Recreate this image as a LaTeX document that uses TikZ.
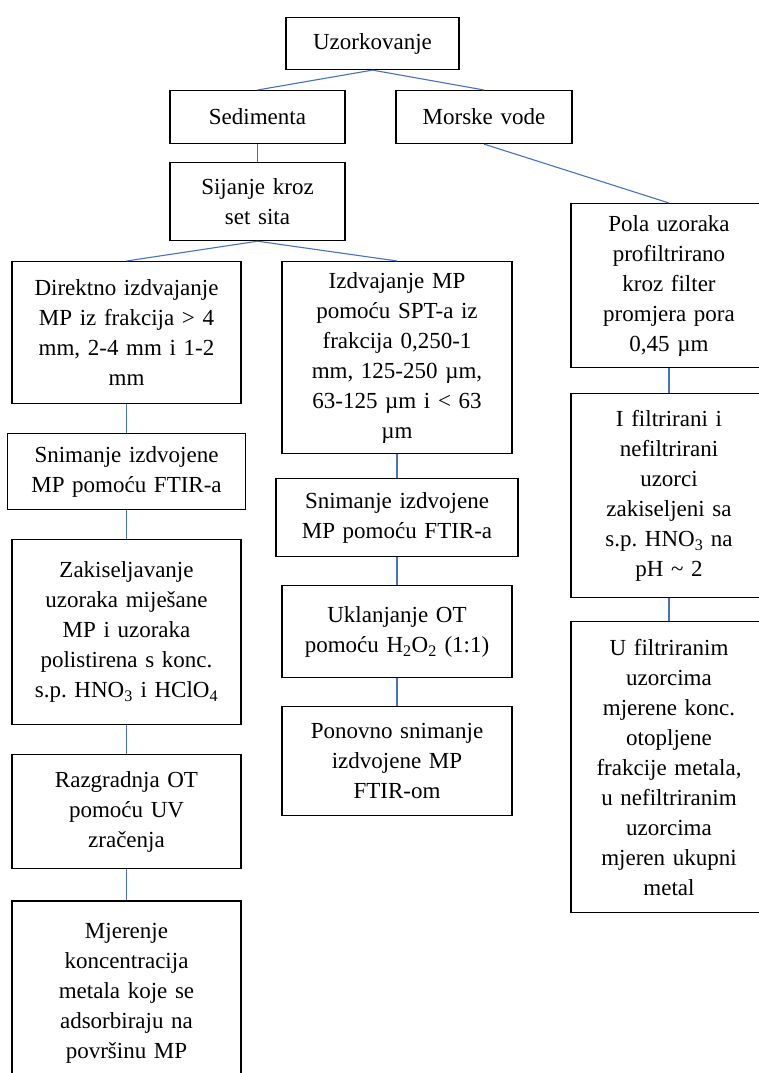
\documentclass[tikz,border=0pt]{standalone}
\usepackage{fontspec}
\setmainfont{Liberation Serif}
\usepackage{xcolor}
\usepackage{tikz}
\usetikzlibrary{positioning}

\definecolor{linkblue}{HTML}{4472C4}
\frenchspacing

\begin{document}
\begin{tikzpicture}[
        x=1pt, y=-1pt,
        stepbox/.style 2 args={rectangle, draw=black, line width=1.1pt, inner xsep=0pt, inner ysep=0pt,
            text width=#1, minimum height=#2, align=center,
            font=\fontsize{23}{30}\selectfont},
        link/.style={draw=linkblue, line width=1.1pt}
    ]
    \useasboundingbox (0,0) rectangle (758,1073);

    % --- Nodes (top levels) ---
    \node[stepbox={173pt}{52pt}, anchor=north] (uzork) at (372.5,17) {Uzorkovanje};
    \node[stepbox={175pt}{53pt}, anchor=north] (sediment) at (257.5,90) {Sedimenta};
    \node[stepbox={176pt}{53pt}, anchor=north] (morske) at (484,90) {Morske vode};
    \node[stepbox={175pt}{78pt}, below=18pt of sediment] (sijanje) {Sijanje kroz\\set sita};

    % --- Left column (sediment, > 1 mm) ---
    \node[stepbox={229pt}{142pt}, anchor=north] (direkt) at (126.5,261) {Direktno izdvajanje\\MP iz frakcija > 4\\mm, 2-4 mm i 1-2\\mm};
    \node[stepbox={238pt}{76pt}, below=29pt of direkt] (snimL) {Snimanje izdvojene\\MP pomoću FTIR-a};
    \node[stepbox={229pt}{185pt}, below=29pt of snimL] (zakis) {Zakiseljavanje\\uzoraka miješane\\MP i uzoraka\\polistirena s konc.\\s.p. HNO\textsubscript{3} i HClO\textsubscript{4}};
    \node[stepbox={229pt}{114pt}, below=29pt of zakis] (razgr) {Razgradnja OT\\pomoću UV\\zračenja};
    \node[stepbox={229pt}{184pt}, below=31pt of razgr] (mjeren) {Mjerenje\\koncentracija\\metala koje se\\adsorbiraju na\\površinu MP};

    % --- Middle column (sediment, < 1 mm) ---
    \node[stepbox={230pt}{192pt}, anchor=north] (izdv) at (397,261) {Izdvajanje MP\\pomoću SPT-a iz\\frakcija 0,250-1\\mm, 125-250 µm,\\63-125 µm i < 63\\µm};
    \node[stepbox={242pt}{78pt}, below=24pt of izdv] (snimM) {Snimanje izdvojene\\MP pomoću FTIR-a};
    \node[stepbox={230pt}{92pt}, below=28pt of snimM] (uklanj) {Uklanjanje OT\\pomoću H\textsubscript{2}O\textsubscript{2} (1:1)};
    \node[stepbox={230pt}{109pt}, below=28pt of uklanj] (ponov) {Ponovno snimanje\\izdvojene MP\\FTIR-om};

    % --- Right column (sea water) ---
    \node[stepbox={196pt}{164pt}, anchor=north] (pola) at (669,203) {Pola uzoraka\\profiltrirano\\kroz filter\\promjera pora\\0,45 µm};
    \node[stepbox={196pt}{204pt}, below=25pt of pola] (ifiltr) {I filtrirani i\\nefiltrirani\\uzorci\\zakiseljeni sa\\s.p. HNO\textsubscript{3} na\\pH \textasciitilde{} 2};
    \node[stepbox={196pt}{291pt}, below=23pt of ifiltr] (ufiltr) {U filtriranim\\uzorcima\\mjerene konc.\\otopljene\\frakcije metala,\\u nefiltriranim\\uzorcima\\mjeren ukupni\\metal};

    % --- Connectors ---
    \draw[link] (uzork.south) -- (sediment.north);
    \draw[link] (uzork.south) -- (morske.north);
    \draw[link] (sediment.south) -- (sijanje.north);
    \draw[link] (morske.south) -- (pola.north);
    \draw[link] (sijanje.south) -- (direkt.north);
    \draw[link] (sijanje.south) -- (izdv.north);

    % left
    \draw[link] (direkt) -- (snimL);
    \draw[link] (snimL) -- (zakis);
    \draw[link] (zakis) -- (razgr);
    \draw[link] (razgr) -- (mjeren);

    % middle
    \draw[link] (izdv) -- (snimM);
    \draw[link] (snimM) -- (uklanj);
    \draw[link] (uklanj) -- (ponov);

    % right
    \draw[link] (pola) -- (ifiltr);
    \draw[link] (ifiltr) -- (ufiltr);

\end{tikzpicture}
\end{document}
